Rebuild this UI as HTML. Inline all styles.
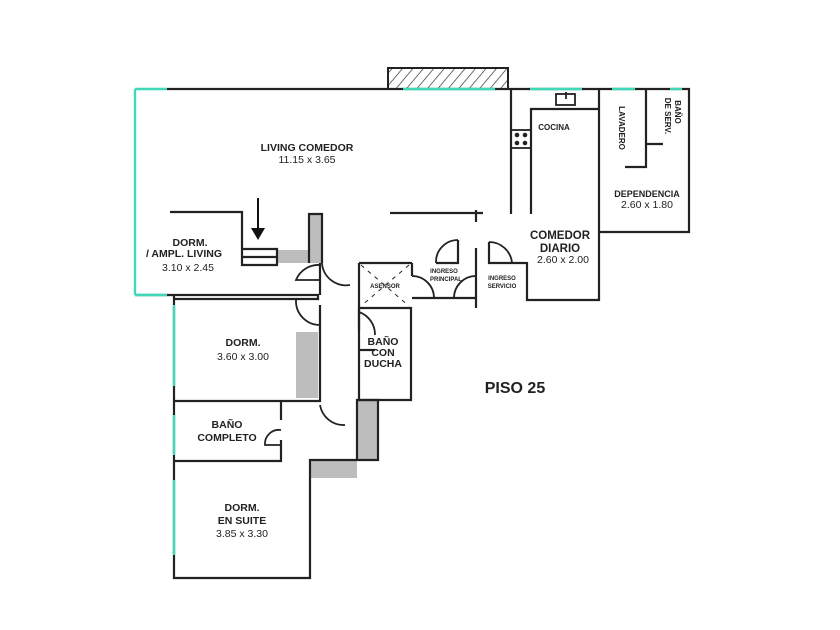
<!DOCTYPE html>
<html><head><meta charset="utf-8"><style>
html,body{margin:0;padding:0;background:#fff}
svg{display:block}
text{font-family:"Liberation Sans",sans-serif;fill:#222;text-anchor:middle}
.b{font-weight:bold}
</style></head><body>
<svg width="840" height="630" viewBox="0 0 840 630" xmlns="http://www.w3.org/2000/svg">
<defs><pattern id="h" width="8" height="8" patternUnits="userSpaceOnUse" patternTransform="rotate(40)"><line x1="0" y1="0" x2="0" y2="8" stroke="#222" stroke-width="1.3"/></pattern></defs>
<g fill="#bdbdbd">
<rect x="309" y="215" width="13" height="48"/><rect x="278" y="250" width="31" height="13"/>
<rect x="296" y="332" width="22" height="66"/>
<rect x="358" y="400" width="20" height="61"/><rect x="310" y="461" width="47" height="17"/>
</g>
<rect x="388" y="68" width="120" height="21" fill="url(#h)" stroke="#222" stroke-width="2"/>
<g fill="none" stroke="#222" stroke-width="2.2">
<path d="M167 89H689V232H599"/>
<path d="M511 89V214M531 214V109H598M599 89V300H527V262M646 89V167H625M646 144H663"/>
<path d="M390 213H483M476 210V222"/>
<path d="M170 212H242V265H277V249H242M242 257H277"/>
<path d="M309 263V214H322V263"/>
<path d="M135 295H318V299H174M318 295V299"/>
<path d="M174 295V578H310V460H357V400H378V460H357M310 478"/>
<path d="M174 401H320V305M174 461H281V440M281 401V420"/>
<path d="M320 263V270M320 295V265"/>
<path d="M359 263V400H411V308H359M359 263H412M412 263V276M412 298H476M476 248V308M436 263H458V240M489 242V263H527"/>
<path d="M359 350H375"/>
<path d="M359 308V330"/>
</g>
<g fill="none" stroke="#222" stroke-width="1.8">
<path d="M436 263A22 22 0 0 1 458 240"/><path d="M489 242A23 23 0 0 1 512 263"/>
<path d="M412 276A22 22 0 0 1 434 298"/><path d="M476 276A22 22 0 0 0 454 298"/>
<path d="M320 265A24 24 0 0 0 296 280H320"/><path d="M320 325A24 24 0 0 1 296 300"/>
<path d="M322 263A24 24 0 0 0 350 285"/>
<path d="M359 312A24 24 0 0 1 375 335"/>
<path d="M320 405A24 24 0 0 0 345 425"/>
<path d="M281 430A14 14 0 0 0 265 445H281"/>
<rect x="556" y="94" width="19" height="11"/><line x1="566" y1="92" x2="566" y2="99"/>
<rect x="511" y="130" width="20" height="18"/>
</g>
<g fill="#222"><circle cx="517" cy="135" r="2.3"/><circle cx="525" cy="135" r="2.3"/><circle cx="517" cy="143" r="2.3"/><circle cx="525" cy="143" r="2.3"/></g>
<g stroke="#222" stroke-width="1" stroke-dasharray="4 5"><line x1="361" y1="265" x2="409" y2="306"/><line x1="409" y1="265" x2="361" y2="306"/></g>
<line x1="258" y1="198" x2="258" y2="232" stroke="#111" stroke-width="2"/><path d="M251 228L258 240L265 228Z" fill="#111"/>
<g stroke="#3fd9b8" stroke-width="2.4">
<line x1="135" y1="89" x2="167" y2="89"/><line x1="135" y1="89" x2="135" y2="295"/><line x1="135" y1="295" x2="167" y2="295"/>
<line x1="403" y1="89" x2="495" y2="89"/><line x1="530" y1="89" x2="582" y2="89"/><line x1="612" y1="89" x2="635" y2="89"/><line x1="670" y1="89" x2="682" y2="89"/>
<line x1="174" y1="305" x2="174" y2="386"/><line x1="174" y1="415" x2="174" y2="455"/><line x1="174" y1="480" x2="174" y2="555"/>
</g>
<g font-size="10.5">
<text x="307" y="151" class="b">LIVING COMEDOR</text><text x="307" y="163">11.15 x 3.65</text>
<text x="190" y="246" class="b">DORM.</text><text x="184" y="257" class="b">/ AMPL. LIVING</text><text x="188" y="271">3.10 x 2.45</text>
<text x="243" y="346" class="b">DORM.</text><text x="243" y="360">3.60 x 3.00</text>
<text x="227" y="428" class="b">BAÑO</text><text x="227" y="441" class="b">COMPLETO</text>
<text x="242" y="511" class="b">DORM.</text><text x="242" y="524" class="b">EN SUITE</text><text x="242" y="537">3.85 x 3.30</text>
<text x="383" y="345" class="b">BAÑO</text><text x="383" y="356" class="b">CON</text><text x="383" y="367" class="b">DUCHA</text>
<text x="554" y="130" class="b" font-size="8">COCINA</text>
<text x="647" y="197" class="b" font-size="9">DEPENDENCIA</text><text x="647" y="208">2.60 x 1.80</text>
<text x="560" y="239" class="b" font-size="11.5">COMEDOR</text><text x="560" y="252" class="b" font-size="11.5">DIARIO</text><text x="563" y="263">2.60 x 2.00</text>
<text x="385" y="288" class="b" font-size="6">ASENSOR</text>
<text x="444" y="273" class="b" font-size="6">INGRESO</text><text x="446" y="281" class="b" font-size="6">PRINCIPAL</text>
<text x="502" y="280" class="b" font-size="6">INGRESO</text><text x="502" y="288" class="b" font-size="6">SERVICIO</text>
<text x="515" y="393" class="b" font-size="16">PISO 25</text>
<text transform="translate(619,128) rotate(90)" class="b" font-size="8">LAVADERO</text>
<text transform="translate(675,112) rotate(90)" class="b" font-size="8">BAÑO</text>
<text transform="translate(665,116) rotate(90)" class="b" font-size="8">DE SERV.</text>
</g>
</svg>
</body></html>
